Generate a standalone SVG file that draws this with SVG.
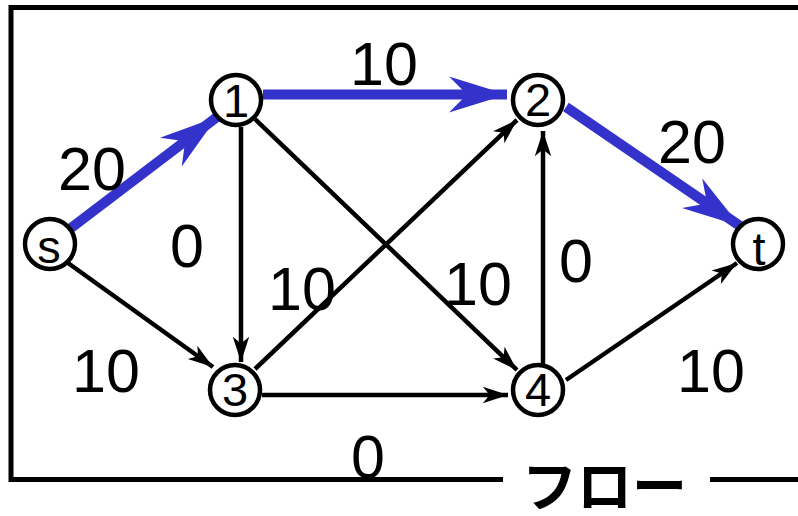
<svg xmlns="http://www.w3.org/2000/svg" width="798" height="516" viewBox="0 0 798 516">
<style>
.frame{stroke:#000;stroke-width:5;fill:none}
.edge{stroke:#000;stroke-width:4.5;fill:none}
.flow{stroke:#3333cc;stroke-width:10;fill:none}
.node circle{fill:#fff;stroke:#000;stroke-width:4.5}
.nl{font-family:"Liberation Sans",Arial,sans-serif;font-size:47px;text-anchor:middle;fill:#000}
.el{font-family:"Liberation Sans",Arial,sans-serif;font-size:61px;text-anchor:middle;fill:#000}
.title{font-family:"Noto Sans CJK JP","Noto Sans",sans-serif;font-size:55px;font-weight:bold;fill:#000}
</style>
<defs>
<marker id="ab" markerUnits="userSpaceOnUse" markerWidth="60" markerHeight="60" refX="0" refY="0" viewBox="-60 -30 62 60" orient="auto" overflow="visible">
<path d="M0,0 L-26,-8.5 L-19,0 L-26,8.5 Z" fill="#000"/>
</marker>
<marker id="abl" markerUnits="userSpaceOnUse" markerWidth="80" markerHeight="60" refX="0" refY="0" viewBox="-70 -30 72 60" orient="auto" overflow="visible">
<path d="M0,0 L-58,-18 L-40,0 L-58,18 Z" fill="#3333cc"/>
</marker>
</defs>
<g id="frame">
<path class="frame" d="M798,7.5 H11 V479.5 H503"/>
<path class="frame" d="M710,479.5 H798"/>
<text class="title" x="522" y="506">フロー</text>
</g>
<g id="connectors">
<path class="edge" d="M241,127 V362" marker-end="url(#ab)"/>
<path class="edge" d="M255,119 L517,370" marker-end="url(#ab)"/>
<path class="edge" d="M68,263 L213,367" marker-end="url(#ab)"/>
<path class="edge" d="M255,369 L517,120" marker-end="url(#ab)"/>
<path class="edge" d="M262,395 H508" marker-end="url(#ab)"/>
<path class="edge" d="M543,364 V131" marker-end="url(#ab)"/>
<path class="edge" d="M566,380 L737,263" marker-end="url(#ab)"/>
<path class="flow" d="M71,228 L217,117" marker-end="url(#abl)"/>
<path class="flow" d="M263,94.5 H507" marker-end="url(#abl)"/>
<path class="flow" d="M566,107 L740,226" marker-end="url(#abl)"/>
</g>
<g id="node-s" class="node"><circle cx="50" cy="244" r="25"/><text class="nl" x="49" y="263">s</text></g>
<g id="node-1" class="node"><circle cx="236" cy="100" r="25"/><text class="nl" x="236" y="117">1</text></g>
<g id="node-2" class="node"><circle cx="538" cy="100" r="25"/><text class="nl" x="538" y="116">2</text></g>
<g id="node-3" class="node"><circle cx="235" cy="390" r="25"/><text class="nl" x="235" y="406">3</text></g>
<g id="node-4" class="node"><circle cx="538" cy="390" r="25"/><text class="nl" x="538" y="406">4</text></g>
<g id="node-t" class="node"><circle cx="758" cy="244" r="25"/><text class="nl" x="759" y="265">t</text></g>
<g id="labels">
<text class="el" x="92" y="190">20</text>
<text class="el" x="384" y="85">10</text>
<text class="el" x="692" y="163">20</text>
<text class="el" x="187" y="267">0</text>
<text class="el" x="302" y="310">10</text>
<text class="el" x="478" y="305">10</text>
<text class="el" x="576" y="282">0</text>
<text class="el" x="106" y="392">10</text>
<text class="el" x="711" y="392">10</text>
<text class="el" x="368" y="478">0</text>
</g>
</svg>
